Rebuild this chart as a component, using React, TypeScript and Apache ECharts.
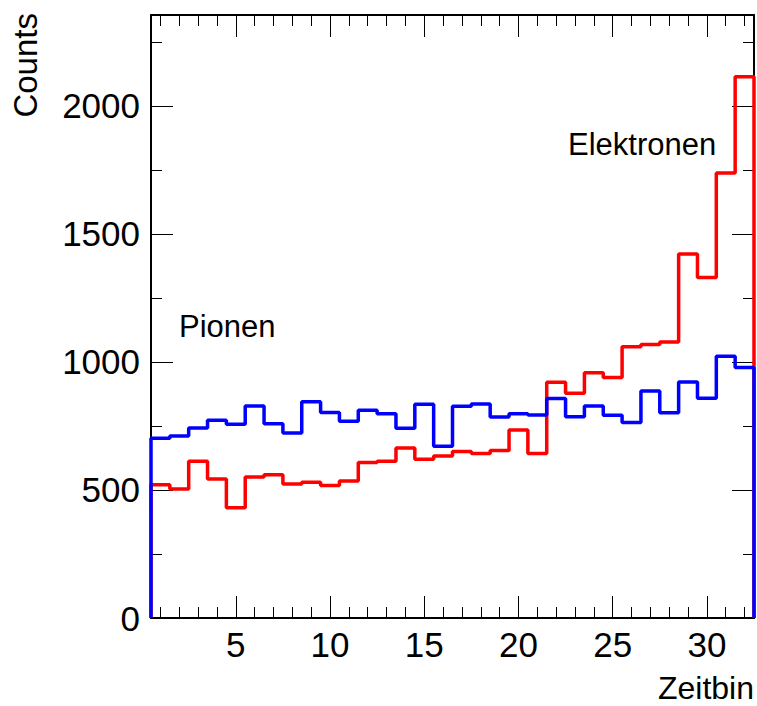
import React, { useEffect, useRef } from "react";
import * as echarts from "echarts";

// Histogram bins (Zeitbin 1..32)
const bins: number[] = Array.from({ length: 32 }, (_, i) => i + 1);

// Pionen (blue)
const pionen: number[] = [
  702, 711, 742, 772, 757, 828, 759, 723, 845, 803, 768, 811, 798, 741, 835, 671,
  827, 836, 785, 798, 793, 857, 786, 828, 792, 764, 887, 802, 922, 858, 1022, 978,
];

// Elektronen (red)
const elektronen: number[] = [
  520, 504, 612, 543, 431, 551, 559, 523, 530, 517, 535, 607, 612, 664, 620, 633,
  650, 642, 654, 734, 642, 921, 878, 958, 939, 1059, 1068, 1078, 1422, 1330, 1738, 2114,
];

// Axis ticks / labels
const xLabelValues: number[] = [5, 10, 15, 20, 25, 30];
const xMinorValues: number[] = bins;
const yLabelValues: number[] = [0, 500, 1000, 1500, 2000];
const yMinorValues: number[] = [250, 750, 1250, 1750, 2250];

const X_MIN = 0.5;
const X_MAX = 32.5;
const Y_MIN = 0;
const Y_MAX = 2355;

const FONT = '"Liberation Sans", Arial, Helvetica, sans-serif';

function histSteps(vals: number[]): number[][] {
  const pts: number[][] = [[bins[0] - 0.5, 0]];
  vals.forEach((v, i) => pts.push([bins[i] - 0.5, v]));
  const last = bins.length - 1;
  pts.push([bins[last] + 0.5, vals[last]]);
  pts.push([bins[last] + 0.5, 0]);
  return pts;
}

const plainNum = (v: number) => String(v);

function xAxisDef(position: "bottom" | "top", ticks: number[], len: number, labels: boolean, line: boolean) {
  return {
    type: "value",
    position,
    min: X_MIN,
    max: X_MAX,
    axisLine: { show: line, onZero: false, lineStyle: { color: "#000", width: 2 } },
    axisTick: { show: true, inside: true, length: len, customValues: ticks, lineStyle: { color: "#000", width: 1 } },
    axisLabel: labels
      ? { show: true, customValues: xLabelValues, formatter: plainNum, fontSize: 35, fontFamily: FONT, color: "#000", margin: 9 }
      : { show: false },
    splitLine: { show: false },
  };
}

function yAxisDef(position: "left" | "right", ticks: number[], len: number, labels: boolean, line: boolean) {
  return {
    type: "value",
    position,
    min: Y_MIN,
    max: Y_MAX,
    axisLine: { show: line, onZero: false, lineStyle: { color: "#000", width: 2 } },
    axisTick: { show: true, inside: true, length: len, customValues: ticks, lineStyle: { color: "#000", width: 1 } },
    axisLabel: labels
      ? { show: true, customValues: yLabelValues, formatter: plainNum, fontSize: 35, fontFamily: FONT, color: "#000", margin: 11 }
      : { show: false },
    splitLine: { show: false },
  };
}

export default function App() {
  const ref = useRef<HTMLDivElement>(null);

  useEffect(() => {
    document.body.style.margin = "0";
    document.body.style.overflow = "hidden";
    if (!ref.current) return;
    const chart = echarts.init(ref.current, null, { renderer: "svg" });
    const option: any = {
      animation: false,
      backgroundColor: "#fff",
      grid: { left: 151, right: 3, top: 15, bottom: 88, containLabel: false, outerBoundsMode: "none" },
      xAxis: [
        xAxisDef("bottom", xMinorValues, 11, true, true),
        xAxisDef("bottom", xLabelValues, 22, false, false),
        xAxisDef("top", xMinorValues, 11, false, true),
        xAxisDef("top", xLabelValues, 22, false, false),
      ],
      yAxis: [
        yAxisDef("left", yMinorValues, 11, true, true),
        yAxisDef("left", yLabelValues, 22, false, false),
        yAxisDef("right", yMinorValues, 11, false, true),
        yAxisDef("right", yLabelValues, 22, false, false),
      ],
      series: [
        {
          name: "Elektronen",
          type: "line",
          step: "end",
          xAxisIndex: 0,
          yAxisIndex: 0,
          data: histSteps(elektronen),
          showSymbol: false,
          symbol: "none",
          lineStyle: { color: "#ff0000", width: 3.5 },
          itemStyle: { color: "#ff0000" },
          z: 2,
        },
        {
          name: "Pionen",
          type: "line",
          step: "end",
          xAxisIndex: 0,
          yAxisIndex: 0,
          data: histSteps(pionen),
          showSymbol: false,
          symbol: "none",
          lineStyle: { color: "#0000ff", width: 3.5 },
          itemStyle: { color: "#0000ff" },
          z: 3,
        },
      ],
      graphic: [
        {
          type: "text",
          x: 25,
          y: 13,
          rotation: Math.PI / 2,
          style: {
            text: "Counts",
            fontSize: 33,
            fontFamily: FONT,
            fill: "#000",
            align: "right",
            textAlign: "right",
            verticalAlign: "middle",
            textVerticalAlign: "middle",
          },
        },
        {
          type: "text",
          x: 754,
          y: 688,
          style: {
            text: "Zeitbin",
            fontSize: 32,
            fontFamily: FONT,
            fill: "#000",
            align: "right",
            textAlign: "right",
            verticalAlign: "middle",
            textVerticalAlign: "middle",
          },
        },
        {
          type: "text",
          x: 179,
          y: 326,
          style: {
            text: "Pionen",
            fontSize: 31,
            fontFamily: FONT,
            fill: "#000",
            align: "left",
            textAlign: "left",
            verticalAlign: "middle",
            textVerticalAlign: "middle",
          },
        },
        {
          type: "text",
          x: 568,
          y: 144,
          style: {
            text: "Elektronen",
            fontSize: 31,
            fontFamily: FONT,
            fill: "#000",
            align: "left",
            textAlign: "left",
            verticalAlign: "middle",
            textVerticalAlign: "middle",
          },
        },
      ],
    };
    chart.setOption(option);
    return () => chart.dispose();
  }, []);

  return (
    <div
      ref={ref}
      style={{ position: "fixed", left: 0, top: 0, width: 757, height: 706 }}
    />
  );
}
